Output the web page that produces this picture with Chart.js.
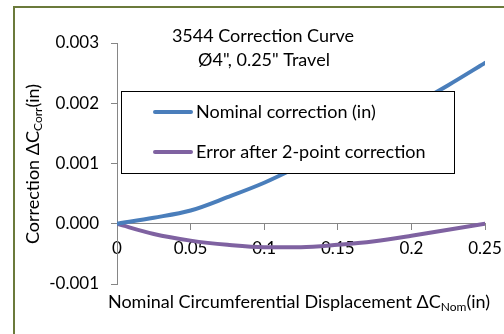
<!DOCTYPE html>
<html>
<head>
<meta charset="utf-8">
<script src="https://cdn.jsdelivr.net/npm/chart.js@4/dist/chart.umd.min.js"></script>
<style>
html,body{margin:0;padding:0;background:#fff;}
#wrap{position:relative;width:504px;height:334px;}
</style>
</head>
<body>
<div id="wrap"><canvas id="c" width="504" height="334"></canvas></div>
<script>
// ---- data ----
const displacement = [0, 0.025, 0.05, 0.075, 0.1, 0.125, 0.15, 0.175, 0.2, 0.225, 0.25];
const nominalCorrection = [0, 0.0001, 0.00022, 0.00044, 0.00068, 0.00097, 0.00128, 0.0016, 0.00195, 0.0023, 0.00267];
const errorAfter2Point = [0, -0.00017, -0.00028, -0.00035, -0.00039, -0.00039, -0.00035, -0.00029, -0.0002, -0.0001, 0];
const seriesNames = ['Nominal correction (in)', 'Error after 2-point correction'];
const titleLines = ['3544 Correction Curve', 'Ø4", 0.25" Travel'];
const xTitleParts = [['Nominal Circumferential Displacement ΔC', false], ['Nom', true], ['(in)', false]];
const yTitleParts = [['Correction ΔC', false], ['Corr', true], ['(in)', false]];

const FONT = 'Lato, "Open Sans", sans-serif';
const BLUE = '#4a7ebb';
const PURPLE = '#7f62a1';
const AXIS = '#868686';

function richWidth(ctx, parts, size, subSize) {
  let w = 0;
  for (const [t, sub] of parts) {
    ctx.font = (sub ? subSize : size) + 'px ' + FONT;
    w += ctx.measureText(t).width;
  }
  return w;
}
function drawRich(ctx, parts, cx, cy, size, subSize) {
  const w = richWidth(ctx, parts, size, subSize);
  let x = cx - w / 2;
  ctx.textAlign = 'left';
  ctx.textBaseline = 'middle';
  for (const [t, sub] of parts) {
    ctx.font = (sub ? subSize : size) + 'px ' + FONT;
    ctx.fillText(t, x, sub ? cy + 5 : cy);
    x += ctx.measureText(t).width;
  }
}

const decor = {
  id: 'decor',
  beforeDraw(chart) {
    const ctx = chart.ctx;
    ctx.save();
    ctx.fillStyle = '#fff';
    ctx.fillRect(0, 0, chart.width, chart.height);
    ctx.fillStyle = '#6b7a3b';
    ctx.fillRect(13, 6, chart.width - 13, 2);
    ctx.fillRect(13, 6, 2, chart.height - 6);
    ctx.restore();
  },
  afterDraw(chart) {
    const ctx = chart.ctx;
    const ca = chart.chartArea;
    ctx.save();
    ctx.fillStyle = '#000';
    // chart title
    ctx.font = '18px ' + FONT;
    ctx.textAlign = 'center';
    ctx.textBaseline = 'middle';
    ctx.fillText(titleLines[0], 263, 36);
    ctx.fillText(titleLines[1], 264, 60);
    // x axis title
    drawRich(ctx, xTitleParts, 299, 302, 18, 12);
    // y axis title (rotated)
    ctx.save();
    ctx.translate(33, 164);
    ctx.rotate(-Math.PI / 2);
    drawRich(ctx, yTitleParts, 0, 0, 18, 12);
    ctx.restore();
    // legend box
    const lx = 121, ly = 91, lw = 333, lh = 82;
    ctx.fillStyle = '#fff';
    ctx.fillRect(lx, ly, lw, lh);
    ctx.strokeStyle = '#000';
    ctx.lineWidth = 1;
    ctx.strokeRect(lx + 0.5, ly + 0.5, lw, lh);
    const colors = [BLUE, PURPLE];
    const ys = [112, 152];
    ctx.lineWidth = 4;
    ctx.lineCap = 'round';
    ctx.font = '18px ' + FONT;
    ctx.textAlign = 'left';
    ctx.textBaseline = 'middle';
    for (let i = 0; i < 2; i++) {
      ctx.strokeStyle = colors[i];
      ctx.beginPath();
      ctx.moveTo(155, ys[i]);
      ctx.lineTo(191, ys[i]);
      ctx.stroke();
      ctx.fillStyle = '#000';
      ctx.fillText(seriesNames[i], 196, ys[i]);
    }
    ctx.restore();
  }
};

const mk = (ys) => displacement.map((x, i) => ({x, y: ys[i]}));

new Chart(document.getElementById('c'), {
  type: 'line',
  data: {
    datasets: [
      {label: seriesNames[0], data: mk(nominalCorrection), borderColor: BLUE, borderWidth: 4, pointRadius: 0, tension: 0.4, cubicInterpolationMode: 'monotone', fill: false, borderCapStyle: 'round'},
      {label: seriesNames[1], data: mk(errorAfter2Point), borderColor: PURPLE, borderWidth: 4, pointRadius: 0, tension: 0.4, cubicInterpolationMode: 'monotone', fill: false, borderCapStyle: 'round'}
    ]
  },
  options: {
    responsive: false,
    animation: false,
    devicePixelRatio: 1,
    layout: {padding: {left: 0, right: 19, top: 43, bottom: 50}},
    plugins: {legend: {display: false}, title: {display: false}, tooltip: {enabled: false}},
    scales: {
      x: {
        type: 'linear',
        position: {y: 0},
        min: 0, max: 0.25,
        grid: {display: true, drawOnChartArea: false, drawTicks: true, tickLength: 6, color: AXIS},
        border: {display: true, color: AXIS, width: 1},
        ticks: {stepSize: 0.05, color: '#000', font: {family: FONT, size: 17}, padding: 9, maxRotation: 0,
          callback: v => String(+Number(v).toFixed(2))},
        afterFit: s => { s.paddingLeft = 0; s.paddingRight = 0; }
      },
      y: {
        type: 'linear',
        position: 'left',
        min: -0.001, max: 0.003,
        grid: {display: true, drawOnChartArea: false, drawTicks: true, tickLength: 6, color: AXIS},
        border: {display: true, color: AXIS, width: 1},
        ticks: {stepSize: 0.001, color: '#000', font: {family: FONT, size: 17}, padding: 12,
          callback: v => Number(v).toFixed(3)},
        afterFit: s => { s.width = 117; s.paddingTop = 0; s.paddingBottom = 0; }
      }
    }
  },
  plugins: [decor]
});
</script>
</body>
</html>
